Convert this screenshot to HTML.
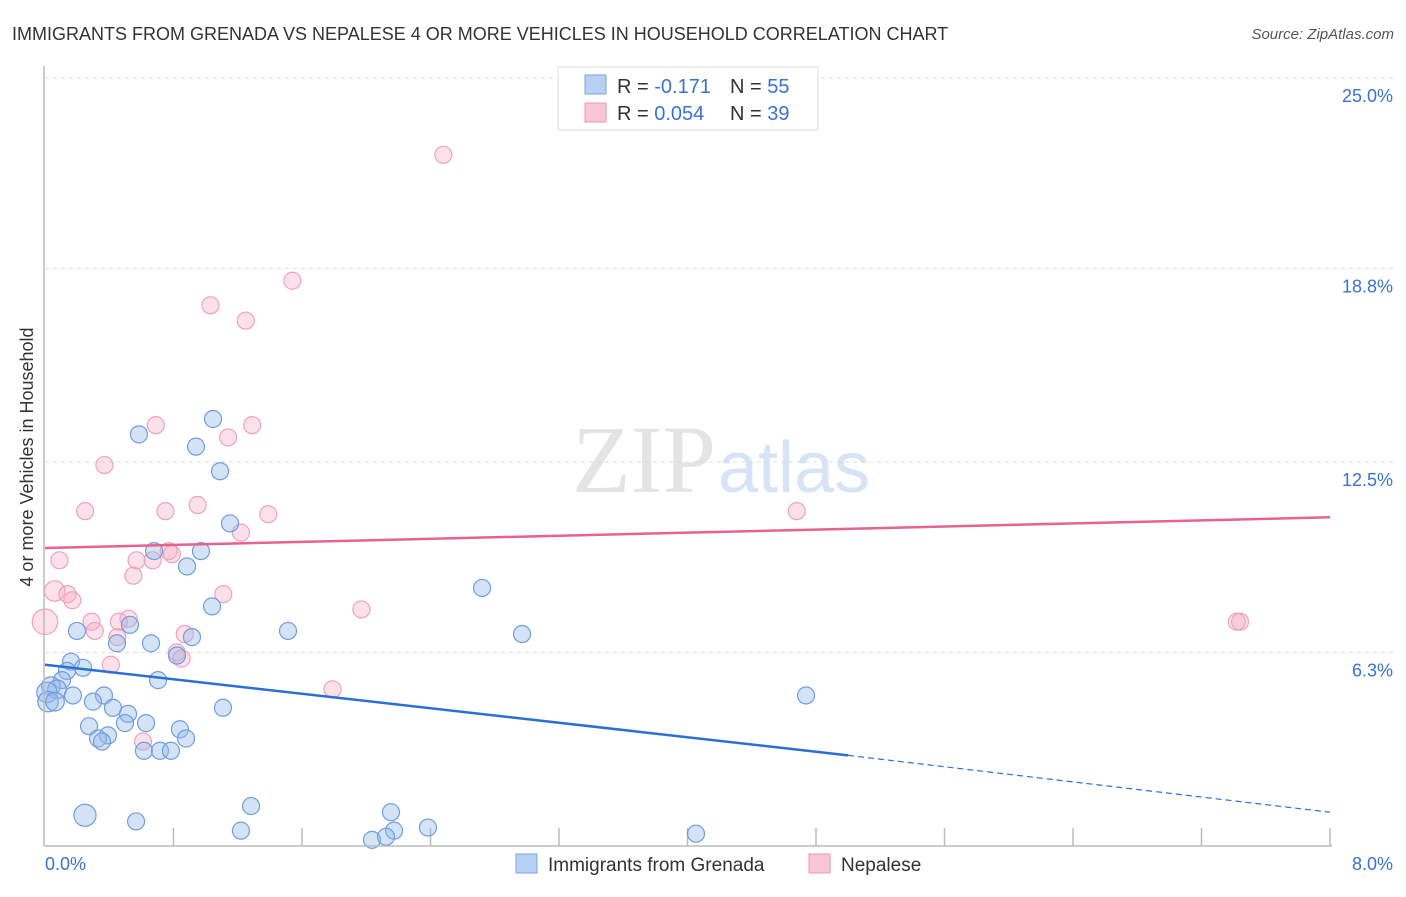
<!DOCTYPE html>
<html><head><meta charset="utf-8"><style>
body{margin:0;background:#fff;font-family:"Liberation Sans",sans-serif;}
</style></head><body>
<svg width="1406" height="892" id="svg" font-family="Liberation Sans, sans-serif">
<text x="12" y="40" font-size="18" fill="#333">IMMIGRANTS FROM GRENADA VS NEPALESE 4 OR MORE VEHICLES IN HOUSEHOLD CORRELATION CHART</text>
<text x="1394" y="39" font-size="15" fill="#555" font-style="italic" text-anchor="end">Source: ZipAtlas.com</text>
<text x="716" y="492" font-size="96" fill="#e4e4e4" text-anchor="end" font-family="Liberation Serif, serif">ZIP</text>
<text x="718" y="492" font-size="72" fill="#d6e4f5">atlas</text>
<text transform="translate(33,457) rotate(-90)" font-size="18" fill="#333" text-anchor="middle">4 or more Vehicles in Household</text>
<g id="grid"></g><g id="pts"></g><g id="lines"></g>
<line x1="44" y1="66" x2="44" y2="846" stroke="#bbb" stroke-width="1.5"/>
<line x1="44" y1="846" x2="1332" y2="846" stroke="#bbb" stroke-width="1.5"/>
<text x="45" y="870" font-size="18" fill="#3a72d0">0.0%</text>
<text x="1393" y="870" font-size="18" fill="#3a72d0" text-anchor="end">8.0%</text>
<rect x="558" y="67" width="260" height="63" fill="#fff" stroke="#ddd"/>
<rect x="585" y="75" width="21" height="19" fill="#b8d0f3" stroke="#7aa3e0"/>
<rect x="585" y="103" width="21" height="19" fill="#f9c6d6" stroke="#ec95b0"/>
<text x="617" y="93" font-size="20" fill="#333">R = <tspan fill="#3a72d0">-0.171</tspan><tspan x="730">N = </tspan><tspan fill="#3a72d0">55</tspan></text>
<text x="617" y="120" font-size="20" fill="#333">R = <tspan fill="#3a72d0">0.054</tspan><tspan x="730">N = </tspan><tspan fill="#3a72d0">39</tspan></text>
<rect x="516" y="854" width="21" height="19" fill="#b8d0f3" stroke="#7aa3e0"/>
<text x="548" y="871" font-size="19" fill="#333">Immigrants from Grenada</text>
<rect x="809" y="854" width="21" height="19" fill="#f9c6d6" stroke="#ec95b0"/>
<text x="841" y="871" font-size="19" fill="#333">Nepalese</text>
</svg>
<script>
const yTicks=[25.0,18.8,12.5,6.3];
const yTickLabels=["25.0%","18.8%","12.5%","6.3%"];
const xTicks=[0.8,1.6,2.4,3.2,4.0,4.8,5.6,6.4,7.2,8.0];
const blueX=[0.585,1.046,0.940,1.090,1.152,0.679,0.971,0.884,1.040,2.721,0.529,0.199,0.448,0.660,0.915,1.513,2.970,0.822,0.162,0.237,0.137,0.106,0.704,0.037,0.075,0.012,0.019,0.062,0.174,0.367,0.299,1.108,4.738,0.423,0.517,0.498,0.629,0.274,0.840,0.392,0.330,0.355,0.878,0.616,0.716,0.784,0.249,0.567,1.283,2.154,1.220,2.384,2.173,2.036,2.123,4.053];
const blueY=[13.4,13.9,13.0,12.2,10.5,9.6,9.6,9.1,7.8,8.4,7.2,7.0,6.6,6.6,6.8,7.0,6.9,6.2,6.0,5.8,5.7,5.4,5.4,5.2,5.1,5.0,4.7,4.7,4.9,4.9,4.7,4.5,4.9,4.5,4.3,4.0,4.0,3.9,3.8,3.6,3.5,3.4,3.5,3.1,3.1,3.1,1.0,0.8,1.3,1.1,0.5,0.6,0.5,0.2,0.3,0.4];
const blueW=[1,1,1,1,1,1,1,1,1,1,1,1,1,1,1,1,1,1,1,1,1,1,1,1.1,1.1,1.2,1.2,1.1,1,1,1,1,1,1,1,1,1,1,1,1,1,1,1,1,1,1,1.3,1,1,1,1,1,1,1,1,1];
const pinkX=[2.48,1.54,1.03,1.25,0.69,1.29,1.14,0.37,0.95,0.25,0.75,1.39,1.22,4.68,0.09,0.67,0.57,0.77,0.79,0.55,0.06,0.14,0.17,1.11,1.97,0.29,0.52,0.46,0.0,0.31,0.87,0.45,0.82,0.85,0.41,1.79,0.61,7.42,7.44];
const pinkY=[22.5,18.4,17.6,17.1,13.7,13.7,13.3,12.4,11.1,10.9,10.9,10.8,10.2,10.9,9.3,9.3,9.3,9.6,9.5,8.8,8.3,8.2,8.0,8.2,7.7,7.3,7.4,7.3,7.3,7.0,6.9,6.8,6.3,6.1,5.9,5.1,3.4,7.3,7.3];
const pinkW=[1,1,1,1,1,1,1,1,1,1,1,1,1,1,1,1,1,1,1,1,1.2,1,1,1,1,1,1,1,1.5,1,1,1,1,1,1,1,1,1,1];
const blueTrend=[5.9,2.95,1.1];   // y at x=0, x=5, x=8
const pinkTrend=[9.7,10.7];       // y at x=0, x=8
const X=v=>45+v/8*1285, Y=v=>846-v/25*768;
const NS="http://www.w3.org/2000/svg";
function mk(t,a,p){const e=document.createElementNS(NS,t);for(const k in a)e.setAttribute(k,a[k]);document.getElementById(p).appendChild(e);return e;}
yTicks.forEach((t,i)=>{
 const l=mk('line',{x1:45,x2:1395,y1:Y(t),y2:Y(t),stroke:'#ddd','stroke-dasharray':'4,4'},'grid');
 
 
 const tx=mk('text',{x:1393,y:Y(t)+24,'font-size':18,fill:'#3a72d0','text-anchor':'end'},'grid');
 tx.textContent=yTickLabels[i];
 
 
});
xTicks.forEach(t=>{
 const l=mk('line',{x1:X(t),x2:X(t),y1:828,y2:846,stroke:'#bbb','stroke-width':1.5},'grid');
 
 
});
pinkX.forEach((x,i)=>{
 const c=mk('circle',{cx:X(x),cy:Y(pinkY[i]),r:8.5*pinkW[i],fill:'rgba(246,170,196,0.35)',stroke:'#eea2bb','stroke-width':1.2},'pts');
 
 
});
blueX.forEach((x,i)=>{
 const c=mk('circle',{cx:X(x),cy:Y(blueY[i]),r:8.5*blueW[i],fill:'rgba(150,186,236,0.4)',stroke:'#6f9de0','stroke-width':1.2},'pts');
 
 
});
let l=mk('line',{x1:X(0),y1:Y(blueTrend[0]),x2:X(5),y2:Y(blueTrend[1]),stroke:'#2a6fd6','stroke-width':2.5},'lines');


l=mk('line',{x1:X(5),y1:Y(blueTrend[1]),x2:X(8),y2:Y(blueTrend[2]),stroke:'#2a6fd6','stroke-width':1.2,'stroke-dasharray':'6,4'},'lines');


l=mk('line',{x1:X(0),y1:Y(pinkTrend[0]),x2:X(8),y2:Y(pinkTrend[1]),stroke:'#e8628c','stroke-width':2.5},'lines');


</script>
</body></html>
